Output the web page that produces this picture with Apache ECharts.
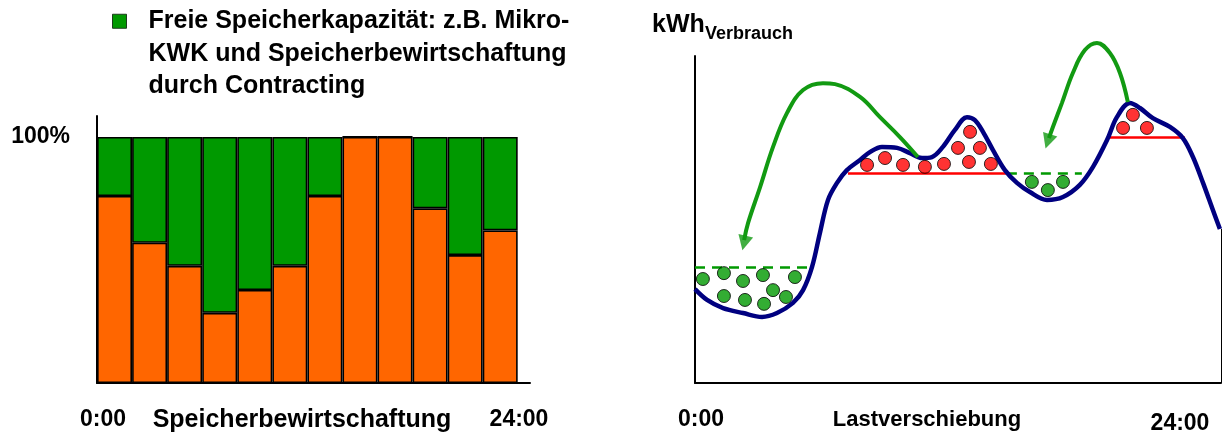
<!DOCTYPE html>
<html><head><meta charset="utf-8">
<script src="https://cdn.jsdelivr.net/npm/echarts@6/dist/echarts.min.js"></script>
<style>html,body{margin:0;padding:0;background:#fff}#c{width:1227px;height:434px}</style>
</head><body><div id="c"></div>
<script>
// ---------- Left chart: Speicherbewirtschaftung ----------
const slotCenters = [0.5, 1.5, 2.5, 3.5, 4.5, 5.5, 6.5, 7.5, 8.5, 9.5, 10.5, 11.5];
const usedShare = [76, 57, 47.6, 28.5, 37.8, 47.6, 76, 100, 100, 71, 52, 62];
const freeShare = [24, 43, 52.4, 71.5, 62.2, 52.4, 24, 0, 0, 29, 48, 38];
const freeName = 'Freie Speicherkapazität: z.B. Mikro-KWK und Speicherbewirtschaftung durch Contracting';
const freeLegendLines = ['Freie Speicherkapazität: z.B. Mikro-', 'KWK und Speicherbewirtschaftung', 'durch Contracting'];

// ---------- Right chart: Lastverschiebung ----------
const loadHours = [0, 0.55, 1.28, 2.19, 3.06, 3.74, 4.47, 4.93, 5.34, 5.70, 6.07, 6.48, 6.93, 7.53, 7.98, 8.53, 9.22, 9.81, 10.36, 10.81, 11.31, 11.86, 12.41, 12.77, 13.14, 13.59, 14.14, 14.69, 15.28, 16.06, 16.79, 17.56, 18.16, 18.80, 19.25, 19.84, 20.30, 20.89, 21.67, 22.26, 22.72, 23.18, 23.63, 23.95];
const loadKwh = [28.7, 25.4, 22.9, 21.4, 20.2, 21.4, 24.5, 28.4, 35.5, 45.9, 56.0, 61.2, 65.1, 68.2, 70.6, 72.2, 71.9, 70.3, 68.8, 69.1, 72.2, 77.4, 81.3, 80.4, 76.8, 71.3, 65.1, 61.2, 58.4, 56.0, 56.9, 60.6, 66.1, 74.3, 81.3, 85.6, 84.1, 81.0, 78.3, 74.9, 69.1, 61.2, 52.9, 47.1];

const peakLevels = [[6.98, 14.23, 64.2], [18.80, 22.35, 75.1]];   // [from h, to h, kWh]
const valleyLevels = [[0, 5.34, 35.5], [14.23, 17.65, 64.2]];

const peakDotHours = [7.85, 8.67, 9.49, 10.49, 11.36, 12.50, 13.50, 12.00, 13.00, 12.55, 19.98, 19.53, 20.62];
const peakDotKwh   = [66.7, 68.8, 66.7, 66.1, 67.0, 67.6, 67.0, 71.9, 71.9, 76.8, 82.0, 78.0, 78.0];
const valleyDotHours = [0.36, 1.32, 2.19, 3.10, 4.56, 1.32, 2.28, 3.15, 3.56, 4.15, 15.37, 16.10, 16.79];
const valleyDotKwh   = [31.8, 33.6, 31.2, 33.0, 32.4, 26.6, 25.4, 24.2, 28.4, 26.3, 61.5, 59.0, 61.5];

const shift1Hours = [10.17, 9.35, 8.44, 7.53, 6.39, 5.84, 4.93, 4.20, 3.56, 2.97, 2.42, 2.24];
const shift1Kwh   = [69.1, 75.2, 81.3, 87.5, 91.4, 91.7, 89.6, 82.6, 72.2, 59.9, 48.9, 43.7];
const shift2Hours = [19.75, 19.39, 18.93, 18.34, 17.79, 17.24, 16.74, 16.33, 16.15];
const shift2Kwh   = [85.9, 94.8, 100.9, 104.0, 101.8, 94.8, 85.6, 78.3, 74.9];
const arrowHeads = [[2.24, 42.8, 167], [16.10, 73.9, 162]]; // [h, kWh, rotation]

const zip = (a, b) => a.map((v, i) => [v, b[i]]);
const FONT = '"Liberation Sans", Arial, sans-serif';
const GREEN = '#009900', ORANGE = '#FF6600', NAVY = '#000080', RED = '#FF0000', ARROW = '#129a12';

const chart = echarts.init(document.getElementById('c'), null, {renderer: 'canvas'});

const txt = (text, x, y, size, align) => ({
  type: 'text', x, y, silent: true,
  style: {text, fontSize: size, fontWeight: 'bold', fontFamily: FONT, fill: '#000', align: align || 'center', verticalAlign: 'middle'}
});

chart.setOption({
  animation: false,
  backgroundColor: '#fff',
  grid: [
    {left: 97, right: 697, top: 116, bottom: 51},
    {left: 695, right: 6, top: 56, bottom: 51}
  ],
  xAxis: [
    {gridIndex: 0, type: 'value', min: 0, max: 12.35, axisLine: {lineStyle: {color: '#000', width: 2}}, axisTick: {show: false}, axisLabel: {show: false}, splitLine: {show: false}},
    {gridIndex: 1, type: 'value', min: 0, max: 24, axisLine: {lineStyle: {color: '#000', width: 2}}, axisTick: {show: false}, axisLabel: {show: false}, splitLine: {show: false}}
  ],
  yAxis: [
    {gridIndex: 0, type: 'value', min: 0, max: 108.5, interval: 100,
      axisLine: {show: true, lineStyle: {color: '#000', width: 2}}, axisTick: {show: false}, splitLine: {show: false},
      axisLabel: {formatter: v => v === 100 ? '100%' : '', fontSize: 23, fontWeight: 'bold', fontFamily: FONT, color: '#000', margin: 27}},
    {gridIndex: 1, type: 'value', min: 0, max: 100,
      axisLine: {show: true, lineStyle: {color: '#000', width: 2}}, axisTick: {show: false}, axisLabel: {show: false}, splitLine: {show: false}}
  ],
  legend: {
    data: [freeName], left: 107, top: -65, icon: 'rect', itemWidth: 14, itemHeight: 14,
    formatter: () => '\n\n' + freeLegendLines.join('\n'),
    itemStyle: {borderColor: '#1d3d1d', borderWidth: 1},
    textStyle: {fontSize: 25, fontWeight: 'bold', fontFamily: FONT, color: '#000', lineHeight: 32.5, padding: [0, 0, 0, 17]}
  },
  graphic: [
    txt('0:00', 103, 420, 23), txt('Speicherbewirtschaftung', 302, 420, 25), txt('24:00', 519, 420, 23),
    txt('0:00', 701, 420, 23), txt('Lastverschiebung', 927, 420, 22), txt('24:00', 1180, 424, 23),
    txt('kWh', 652, 25, 25, 'left'), txt('Verbrauch', 705, 34, 18, 'left')
  ],
  series: [
    {name: 'Genutzte Kapazität', type: 'bar', xAxisIndex: 0, yAxisIndex: 0, stack: 'cap', barWidth: 35,
      encode: {x: 1, y: 0},
      data: zip(usedShare, slotCenters), itemStyle: {color: ORANGE, borderColor: '#000', borderWidth: 1.6}},
    {name: freeName, type: 'bar', xAxisIndex: 0, yAxisIndex: 0, stack: 'cap', barWidth: 35,
      encode: {x: 1, y: 0},
      data: zip(freeShare, slotCenters), itemStyle: {color: GREEN, borderColor: '#000', borderWidth: 1.6},
      markLine: {silent: true, symbol: 'none', label: {show: false},
        lineStyle: {color: '#000', type: 'dotted', width: 1.2},
        data: [[{coord: [100, 0]}, {coord: [100, 12]}]]}},
    {name: 'Last', type: 'line', xAxisIndex: 1, yAxisIndex: 1, smooth: 0.35, symbol: 'none', z: 4,
      data: zip(loadHours, loadKwh), lineStyle: {color: NAVY, width: 4.5},
      markLine: {silent: true, symbol: 'none', label: {show: false}, z: 2,
        data: [
          ...peakLevels.map(l => [{coord: [l[0], l[2]], lineStyle: {color: RED, width: 2.5, type: 'solid'}}, {coord: [l[1], l[2]]}]),
          ...valleyLevels.map(l => [{coord: [l[0], l[2]], lineStyle: {color: GREEN, width: 2.5, type: [10, 7]}}, {coord: [l[1], l[2]]}]),
          [{coord: [24, 0], lineStyle: {color: '#000', width: 1, type: 'solid'}}, {coord: [24, 47.1]}]
        ]}},
    {name: 'Lastspitzen', type: 'scatter', xAxisIndex: 1, yAxisIndex: 1, symbolSize: 13, z: 5,
      data: zip(peakDotHours, peakDotKwh), itemStyle: {color: RED, borderColor: '#000', borderWidth: 1}},
    {name: 'Lasttäler', type: 'scatter', xAxisIndex: 1, yAxisIndex: 1, symbolSize: 13, z: 5,
      data: zip(valleyDotHours, valleyDotKwh), itemStyle: {color: GREEN, borderColor: '#000', borderWidth: 1}},
    {name: 'Verschiebung 1', type: 'line', xAxisIndex: 1, yAxisIndex: 1, smooth: 0.4, symbol: 'none', clip: false, z: 6,
      data: zip(shift1Hours, shift1Kwh), lineStyle: {color: ARROW, width: 4}},
    {name: 'Verschiebung 2', type: 'line', xAxisIndex: 1, yAxisIndex: 1, smooth: 0.4, symbol: 'none', clip: false, z: 6,
      data: zip(shift2Hours, shift2Kwh), lineStyle: {color: ARROW, width: 4}},
    {name: 'Pfeilspitzen', type: 'scatter', xAxisIndex: 1, yAxisIndex: 1, symbol: 'triangle', symbolSize: [15, 15], clip: false, z: 6,
      data: arrowHeads.map(a => ({value: [a[0], a[1]], symbolRotate: a[2]})), itemStyle: {color: ARROW}}
  ]
});
</script></body></html>
